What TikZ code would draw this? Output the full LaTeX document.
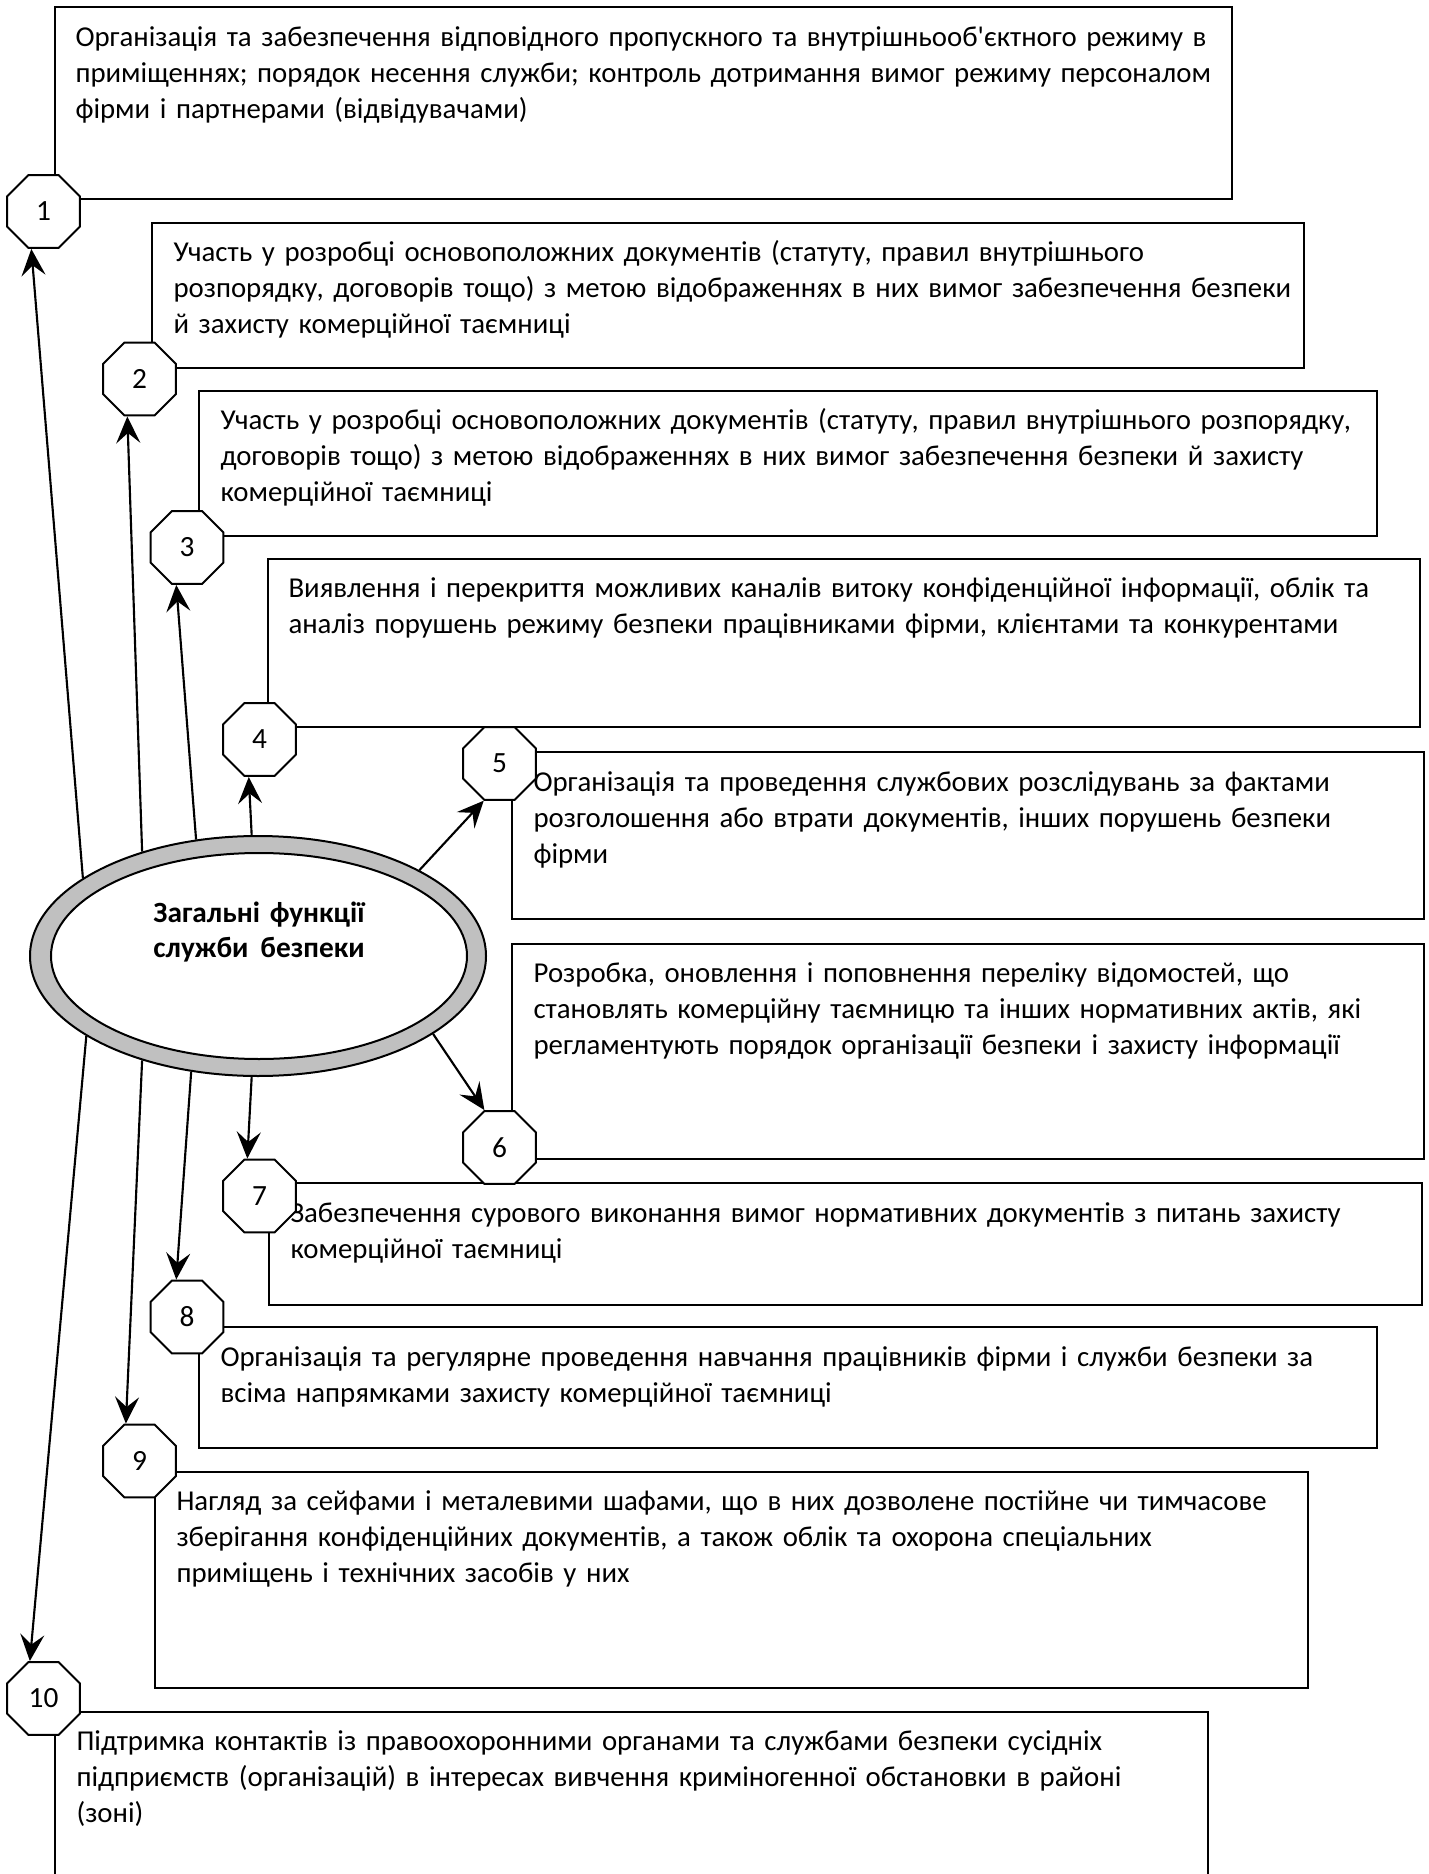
\documentclass[tikz,border=0pt]{standalone}
\usepackage{fontspec}
\setmainfont{Carlito}[Ligatures=TeXOff]
\usetikzlibrary{shapes.geometric,arrows.meta,calc}
\definecolor{ringgray}{HTML}{C0C0C0}
\begin{document}
\begin{tikzpicture}[x=0.375pt,y=-0.375pt,
  box/.style={draw,line width=0.75pt,anchor=north west,inner sep=0pt,outer sep=0pt},
  txt/.style={anchor=base west,inner sep=0pt,text width=440pt,align=left,font=\fontsize{10.8pt}{13.5pt}\selectfont},
  oct/.style={regular polygon,regular polygon sides=8,minimum size=29.6pt,inner sep=0pt,draw,fill=white,line width=0.75pt,font=\fontsize{11pt}{13pt}\selectfont},
  arr/.style={line width=0.8pt,-{Stealth[length=10pt,width=9pt,inset=3.8pt]}}]
\useasboundingbox (0,0) rectangle (1428,1874);
\clip (0,0) rectangle (1428,1874);
% boxes
\node[box,minimum width=441.375pt,minimum height=72pt] (b1) at (55,7) {};
\node[box,minimum width=432pt,minimum height=54.375pt] (b2) at (152,223) {};
\node[box,minimum width=441.75pt,minimum height=54.375pt] (b3) at (199,391) {};
\node[box,minimum width=432pt,minimum height=63pt] (b4) at (268,559) {};
\node[box,minimum width=342pt,minimum height=62.625pt] (b5) at (512,752) {};
\node[box,minimum width=342pt,minimum height=80.625pt] (b6) at (512,944) {};
\node[box,minimum width=432.375pt,minimum height=45.75pt] (b7) at (269,1183) {};
\node[box,minimum width=441.75pt,minimum height=45.375pt] (b8) at (199,1327) {};
\node[box,minimum width=432.375pt,minimum height=81pt] (b9) at (155,1472) {};
\node[box,minimum width=432.375pt,minimum height=75pt] (b10) at (55,1712) {};
% texts
\node[txt] (t1) at ($(b1.north west)+(20,40)$) {Організація та забезпечення відповідного пропускного та внутрішньооб'єктного режиму в\\приміщеннях; порядок несення служби; контроль дотримання вимог режиму персоналом\\фірми і партнерами (відвідувачами)};
\node[txt] (t2) at ($(b2.north west)+(21,39)$) {Участь у розробці основоположних документів (статуту, правил внутрішнього\\розпорядку, договорів тощо) з метою відображеннях в них вимог забезпечення безпеки\\й захисту комерційної таємниці};
\node[txt] (t3) at ($(b3.north west)+(21,39)$) {Участь у розробці основоположних документів (статуту, правил внутрішнього розпорядку,\\договорів тощо) з метою відображеннях в них вимог забезпечення безпеки й захисту\\комерційної таємниці};
\node[txt] (t4) at ($(b4.north west)+(20,39)$) {Виявлення і перекриття можливих каналів витоку конфіденційної інформації, облік та\\аналіз порушень режиму безпеки працівниками фірми, клієнтами та конкурентами};
\node[txt] (t5) at ($(b5.north west)+(21,39)$) {Організація та проведення службових розслідувань за фактами\\розголошення або втрати документів, інших порушень безпеки\\фірми};
\node[txt] (t6) at ($(b6.north west)+(21,38)$) {Розробка, оновлення і поповнення переліку відомостей, що\\становлять комерційну таємницю та інших нормативних актів, які\\регламентують порядок організації безпеки і захисту інформації};
\node[txt] (t7) at ($(b7.north west)+(21,39)$) {Забезпечення сурового виконання вимог нормативних документів з питань захисту\\комерційної таємниці};
\node[txt] (t8) at ($(b8.north west)+(21,39)$) {Організація та регулярне проведення навчання працівників фірми і служби безпеки за\\всіма напрямками захисту комерційної таємниці};
\node[txt] (t9) at ($(b9.north west)+(21,38)$) {Нагляд за сейфами і металевими шафами, що в них дозволене постійне чи тимчасове\\зберігання конфіденційних документів, а також облік та охорона спеціальних\\приміщень і технічних засобів у них};
\node[txt] (t10) at ($(b10.north west)+(21,38)$) {Підтримка контактів із правоохоронними органами та службами безпеки сусідніх\\підприємств (організацій) в інтересах вивчення криміногенної обстановки в районі\\(зоні)};
% central ellipse
\node[ellipse,draw,line width=0.75pt,fill=ringgray,minimum width=171pt,minimum height=90pt,inner sep=0pt] (ell) at (258,956) {};
\node[ellipse,draw,line width=0.75pt,fill=white,minimum width=156pt,minimum height=77.25pt,inner sep=0pt] (inn) at (259,956) {};
\node[anchor=base,inner sep=0pt,text width=120pt,align=center,font=\fontsize{11pt}{13.2pt}\selectfont\bfseries] (title) at (259,922) {Загальні функції\\служби\hspace{4.5pt}безпеки};
% octagons
\node[oct] (o1) at (43.5,211.5) {1};
\node[oct] (o2) at (139.5,379) {2};
\node[oct] (o3) at (187,547.5) {3};
\node[oct] (o4) at (259.5,739.5) {4};
\node[oct] (o5) at (499.5,763.5) {5};
\node[oct] (o6) at (499.5,1147.5) {6};
\node[oct] (o7) at (259.5,1196) {7};
\node[oct] (o8) at (187,1317) {8};
\node[oct] (o9) at (139.5,1461) {9};
\node[oct] (o10) at (43.5,1698.5) {10};
% arrows
\draw[arr] (ell.156.2) -- (o1.252);
\draw[arr] (ell.138.1) -- (o2.252);
\draw[arr] (ell.118.9) -- (o3.254);
\draw[arr] (ell.93.3) -- (o4.254);
\draw[arr] (ell.28.8) -- (o5.247.5);
\draw[arr] (ell.336.8) -- (o6.112.5);
\draw[arr] (ell.267.6) -- (o7.108);
\draw[arr] (ell.240.7) -- (o8.106);
\draw[arr] (ell.222.2) -- (o9.110);
\draw[arr] (ell.205.1) -- (o10.110);
\end{tikzpicture}
\end{document}
